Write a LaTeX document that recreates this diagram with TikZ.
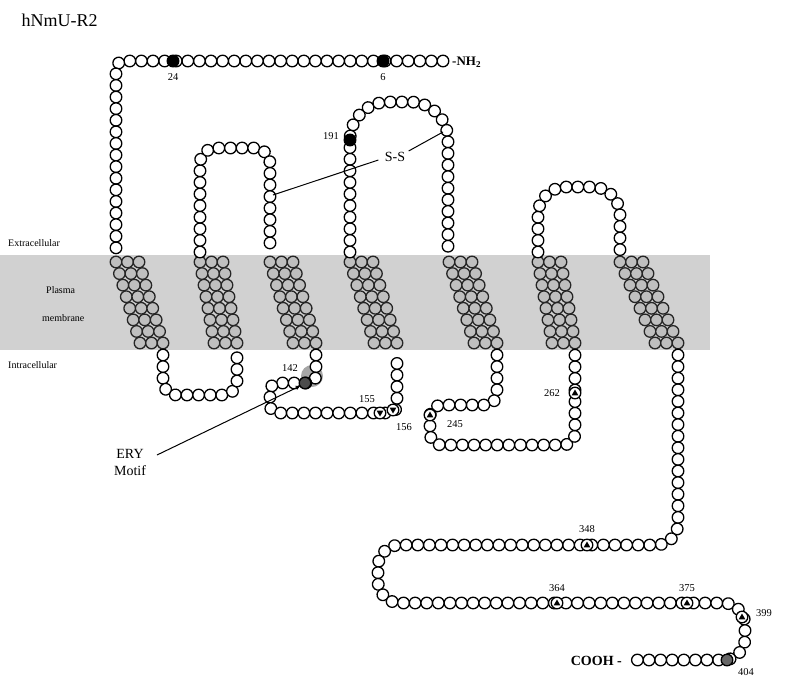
\documentclass[tikz,border=0pt]{standalone}
\usepackage{fontspec}
\setmainfont{Liberation Serif}
\usetikzlibrary{decorations.markings}
\begin{document}
\begin{tikzpicture}[x=1pt,y=-1pt,
  bead/.style={draw=black,line width=1.3pt,fill=white},
  tmbead/.style={draw=black!85,line width=1.3pt,fill=black!25},
  chain/.style={postaction={decorate},decoration={markings,
     mark=between positions 0 and 1 step 11.6pt with {\draw[bead] (0,0) circle (5.8pt);}}},
  lbl/.style={font=\fontsize{10.5}{12}\selectfont,inner sep=1pt},
  side/.style={font=\fontsize{10}{11}\selectfont,anchor=west,inner sep=0pt},
  lin/.style={line width=1pt}]
\useasboundingbox (0,0) rectangle (795,686);
% membrane band
\fill[black!18] (0,255) rectangle (710,350);
\fill[black!35] (312,376) circle (11pt);
\node[font=\fontsize{18}{20}\selectfont,anchor=west] (title) at (18,20) {hNmU-R2};
\node[side] (ext) at (8,243) {Extracellular};
\node[side] (pl) at (46,290) {Plasma};
\node[side] (mem) at (42,318) {membrane};
\node[side] (intr) at (8,365) {Intracellular};
% TM helices
\newcommand{\tmh}[4]{%
  \foreach \r in {0,...,7}{\foreach \c in {0,1,2}{%
    \draw[tmbead] ({#1+(#3-#1-23)*\r/7+11.5*\c},{#2+(#4-#2)*\r/7}) circle (5.8pt);}}}
\tmh{116}{262}{163}{343}
\tmh{200}{262}{237}{343}
\tmh{270}{262}{316}{343}
\tmh{350}{262}{397}{343}
\tmh{449}{262}{497}{343}
\tmh{538}{262}{575}{343}
\tmh{620}{262}{678}{343}
% chain segments
\path[chain,rounded corners=8pt] (443,61) -- (116,61) -- (116,253);
\path[chain,rounded corners=14pt] (163,355) -- (163,395) -- (237,395) -- (237,355);
\path[chain,rounded corners=16pt] (200,252) -- (200,148) -- (270,148) -- (270,252);
\path[chain,rounded corners=8pt] (316,355) -- (316,383) -- (270,383) -- (270,413) -- (397,413) -- (397,355);
\path[chain,rounded corners=38pt] (350,252) -- (350,102) -- (448,102) -- (448,252);
\path[chain,rounded corners=12pt] (497,355) -- (497,405) -- (430,405) -- (430,445) -- (575,445) -- (575,355);
\path[chain,rounded corners=28pt] (538,252) -- (538,187) -- (620,187) -- (620,252);
\path[chain,rounded corners=22pt] (678,355) -- (678,545) -- (378,545) -- (378,603) -- (745,603) -- (745,660) -- (632,660);
% special residues
\foreach \p in {(173,61),(383,61),(350,140)}{\draw[bead,fill=black] \p circle (5.8pt);}
\draw[bead,fill=black!70] (305,383) circle (5.8pt);
\draw[bead,fill=black!60] (727,660) circle (5.8pt);
\foreach \x/\y in {430/415,575/393,587/545,557/603,687/603,742/617}{
  \draw[bead] (\x,\y) circle (5.8pt);
  \fill (\x,\y-3.5) -- (\x-3.3,\y+2.3) -- (\x+3.3,\y+2.3) -- cycle;}
\foreach \x/\y in {380/413,393/410}{
  \draw[bead] (\x,\y) circle (5.8pt);
  \fill (\x,\y+3.5) -- (\x-3.3,\y-2.3) -- (\x+3.3,\y-2.3) -- cycle;}
% labels
\node[lbl] (l24) at (173,77) {24};
\node[lbl] (l6) at (383,77) {6};
\node[font=\fontsize{13}{15}\selectfont\bfseries,anchor=west,inner sep=0pt] (nh) at (452,62) {-NH$_\mathbf{2}$};
\node[lbl] (l191) at (331,136) {191};
\node[lbl] (l142) at (290,368) {142};
\node[lbl] (l155) at (367,399) {155};
\node[lbl] (l156) at (404,427) {156};
\node[lbl] (l245) at (455,424) {245};
\node[lbl] (l262) at (552,393) {262};
\node[lbl] (l348) at (587,529) {348};
\node[lbl] (l364) at (557,588) {364};
\node[lbl] (l375) at (687,588) {375};
\node[lbl] (l399) at (764,613) {399};
\node[lbl] (l404) at (746,672) {404};
\node[font=\fontsize{14}{16}\selectfont\bfseries,anchor=east,inner sep=0pt] (cooh) at (622,661) {COOH -};
\node[font=\fontsize{14}{16}\selectfont] (ss) at (395,157) {S-S};
\coordinate (s1) at (273,195);
\coordinate (s2) at (443,132);
\draw[lin] (ss.west) ++(-3,3) -- (s1);
\draw[lin] (ss.east) ++(0,-6) -- (s2);
\node[font=\fontsize{14}{17}\selectfont,align=center] (ery) at (130,462) {ERY\\Motif};
\coordinate (m142) at (300,386);
\draw[lin,-stealth] (157,455) -- (m142);
\end{tikzpicture}
\end{document}
